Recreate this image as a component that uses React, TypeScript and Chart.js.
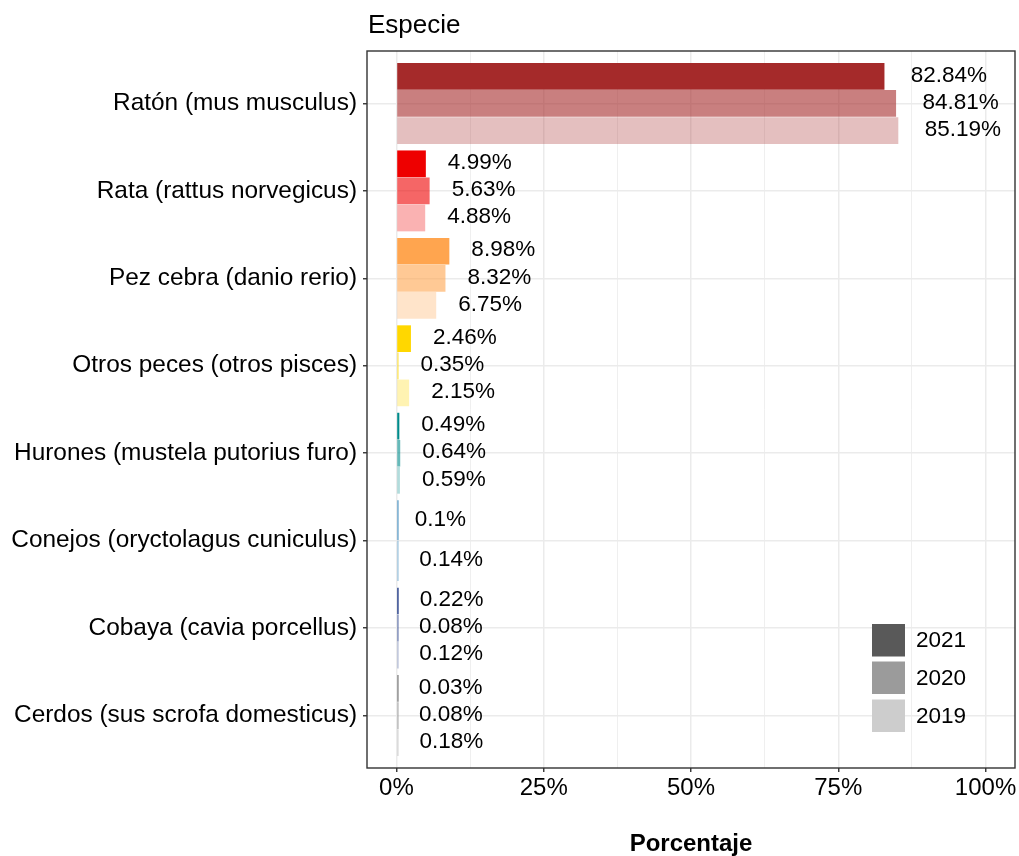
import React, { useEffect, useRef } from "react";
import { Chart, registerables } from "chart.js";

Chart.register(...registerables);

const categories = [
  "Ratón (mus musculus)",
  "Rata (rattus norvegicus)",
  "Pez cebra (danio rerio)",
  "Otros peces (otros pisces)",
  "Hurones (mustela putorius furo)",
  "Conejos (oryctolagus cuniculus)",
  "Cobaya (cavia porcellus)",
  "Cerdos (sus scrofa domesticus)",
];
const years = ["2021", "2020", "2019"];
const values2021 = [82.84, 4.99, 8.98, 2.46, 0.49, 0.1, 0.22, 0.03];
const values2020 = [84.81, 5.63, 8.32, 0.35, 0.64, 0.14, 0.08, 0.08];
const values2019 = [85.19, 4.88, 6.75, 2.15, 0.59, null, 0.12, 0.18];
const speciesColors = ["#A52A2A", "#EE0000", "#FFA54F", "#FFD700", "#008B8B", "#6CA6CD", "#27408B", "#8B8B8B"];
const yearAlphas = [1, 0.6, 0.3];
const legendColors = ["#595959", "#9B9B9B", "#CDCDCD"];
const xTicks = [0, 12.5, 25, 37.5, 50, 62.5, 75, 87.5, 100];

const FONT = "'Liberation Sans', Arial, Helvetica, sans-serif";

function withAlpha(hex: string, a: number) {
  const r = parseInt(hex.slice(1, 3), 16);
  const g = parseInt(hex.slice(3, 5), 16);
  const b = parseInt(hex.slice(5, 7), 16);
  return `rgba(${r},${g},${b},${a})`;
}

const decorPlugin = {
  id: "decor",
  afterDatasetsDraw(chart: any) {
    const ctx = chart.ctx;
    ctx.save();
    ctx.font = `22.5px ${FONT}`;
    ctx.fillStyle = "#000000";
    ctx.textAlign = "left";
    ctx.textBaseline = "middle";
    chart.data.datasets.forEach((ds: any, di: number) => {
      const meta = chart.getDatasetMeta(di);
      meta.data.forEach((el: any, i: number) => {
        const v = ds.data[i].x;
        if (v === null || v === undefined) return;
        const txt = String(v) + "%";
        const w = ctx.measureText(txt).width;
        const scale = chart.scales.x;
        const endX = scale.getPixelForValue(v);
        ctx.fillText(txt, endX + 0.345 * w, el.y - 1);
      });
    });
    ctx.restore();
  },
  afterDraw(chart: any) {
    const ctx = chart.ctx;
    const { left, right, top, bottom } = chart.chartArea;
    ctx.save();
    ctx.strokeStyle = "#333333";
    ctx.lineWidth = 1.4;
    ctx.strokeRect(left, top, right - left, bottom - top);
    ctx.fillStyle = "#000000";
    ctx.font = `26px ${FONT}`;
    ctx.textAlign = "left";
    ctx.textBaseline = "middle";
    ctx.fillText("Especie", left + 1, 26);
    ctx.font = `22.5px ${FONT}`;
    const keyX = 872;
    const keyYs = [624, 661.5, 699.5];
    years.forEach((yr, i) => {
      ctx.fillStyle = legendColors[i];
      ctx.fillRect(keyX, keyYs[i], 33, 32.5);
      ctx.fillStyle = "#000000";
      ctx.fillText(yr, 916, keyYs[i] + 17);
    });
    ctx.restore();
  },
};

export default function App() {
  const ref = useRef<HTMLCanvasElement>(null);
  useEffect(() => {
    const seriesList = [values2021, values2020, values2019];
    const datasets = seriesList.map((vals, yi) => ({
      label: years[yi],
      data: vals.map((v, i) => ({ x: v, y: i })),
      backgroundColor: speciesColors.map((c) => withAlpha(c, yearAlphas[yi])),
      borderWidth: 0,
      skipNull: true,
      minBarLength: 2.2,
      categoryPercentage: 0.93,
      barPercentage: 0.985,
    }));
    const chart = new Chart(ref.current as HTMLCanvasElement, {
      type: "bar",
      data: { datasets },
      plugins: [decorPlugin],
      options: {
        animation: false,
        responsive: false,
        devicePixelRatio: 1,
        indexAxis: "y",
        layout: { padding: { top: 51, right: 4, left: 0, bottom: 0 } },
        plugins: { legend: { display: false }, tooltip: { enabled: false }, title: { display: false } },
        scales: {
          y: {
            type: "linear",
            reverse: true,
            offset: false,
            min: -0.6,
            max: 7.6,
            afterBuildTicks: (scale: any) => {
              scale.ticks = categories.map((_, i) => ({ value: i }));
            },
            afterFit: (scale: any) => {
              scale.width = 367;
            },
            ticks: {
              callback: (v: any) => categories[Math.round(Number(v))] ?? "",
              color: "#000000",
              font: { family: FONT, size: 24.4 },
              padding: 6,
              autoSkip: false,
            },
            grid: {
              offset: false,
              color: "#EBEBEB",
              lineWidth: 1.5,
              tickColor: "#333333",
              tickLength: 4,
              tickWidth: 1.4,
            },
            border: { display: false },
          },
          x: {
            type: "linear",
            min: -5,
            max: 105,
            afterBuildTicks: (scale: any) => {
              scale.ticks = xTicks.map((v) => ({ value: v }));
            },
            afterFit: (scale: any) => {
              scale.height = 88;
            },
            ticks: {
              callback: (v: any) => (Number(v) % 25 === 0 ? `${v}%` : ""),
              color: "#000000",
              font: { family: FONT, size: 24 },
              padding: 2,
              maxRotation: 0,
              autoSkip: false,
            },
            grid: {
              color: "#EBEBEB",
              lineWidth: (c: any) => (c.tick && c.tick.value % 25 === 0 ? 1.5 : 0.8),
              tickColor: (c: any) => (c.tick && c.tick.value % 25 === 0 ? "#333333" : "rgba(0,0,0,0)"),
              tickLength: 4,
              tickWidth: 1.4,
            },
            border: { display: false },
            title: {
              display: true,
              text: "Porcentaje",
              color: "#000000",
              font: { family: FONT, size: 24, weight: "bold", lineHeight: 1.0 },
              padding: { top: 0, bottom: 0 },
            },
          },
        },
      } as any,
    });
    return () => chart.destroy();
  }, []);
  return (
    <div style={{ position: "fixed", left: 0, top: 0, width: 1019, height: 856, background: "#ffffff" }}>
      <canvas ref={ref} width={1019} height={856} style={{ width: 1019, height: 856 }} />
    </div>
  );
}
